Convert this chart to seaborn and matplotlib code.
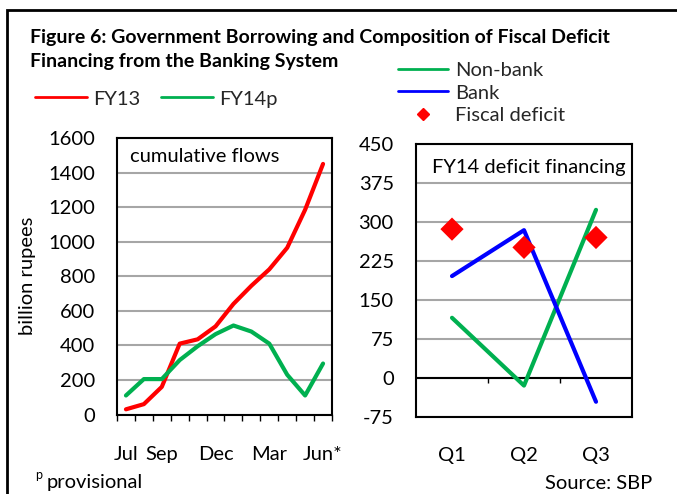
import numpy as np
import pandas as pd
import matplotlib
matplotlib.use("Agg")
import matplotlib.pyplot as plt
import seaborn as sns
from matplotlib.lines import Line2D
from matplotlib.patches import Rectangle

# ---------------- data ----------------
months = ["Jul", "Aug", "Sep", "Oct", "Nov", "Dec", "Jan", "Feb", "Mar", "Apr", "May", "Jun*"]
month_labels = ["Jul", "", "Sep", "", "", "Dec", "", "", "Mar", "", "", "Jun*"]
fy13 = [30, 60, 160, 410, 435, 510, 640, 745, 840, 965, 1185, 1450]
fy14p = [110, 205, 205, 315, 395, 465, 515, 480, 410, 230, 110, 295]

quarters = ["Q1", "Q2", "Q3"]
nonbank = [116, -14, 323]
bank = [196, 284, -45]
fiscal_deficit = [286, 251, 270]

left_ticks = [0, 200, 400, 600, 800, 1000, 1200, 1400, 1600]
right_ticks = [-75, 0, 75, 150, 225, 300, 375, 450]

# ---------------- style ----------------
sns.set_theme(style="white")
plt.rcParams["font.family"] = ["Lato", "DejaVu Sans"]
W, H = 677, 494
RED, GREEN, BLUE = "#ff0000", "#00b050", "#0000ff"
GRID = "#a6a6a6"
FS = 14.5

def fx(x):
    return x / W

def fy(y):
    return 1 - y / H

fig = plt.figure(figsize=(W / 100, H / 100), dpi=100)
fig.patch.set_facecolor("white")

ax1 = fig.add_axes([fx(117), fy(414.5), (332 - 117) / W, (414.5 - 138) / H])
ax2 = fig.add_axes([fx(416), fy(417.4), (632 - 416) / W, (417.4 - 143.6) / H])

# ---------------- left panel ----------------
df_left = pd.DataFrame({
    "idx": list(range(len(months))) * 2,
    "value": fy13 + fy14p,
    "series": ["FY13"] * len(months) + ["FY14p"] * len(months),
})
sns.lineplot(data=df_left, x="idx", y="value", hue="series",
             palette={"FY13": RED, "FY14p": GREEN}, linewidth=3,
             ax=ax1, legend=False, zorder=3)
ax1.set_xlim(-0.5, len(months) - 0.5)
ax1.set_ylim(left_ticks[0], left_ticks[-1])
ax1.set_yticks(left_ticks)
ax1.set_yticklabels([str(t) for t in left_ticks])
ax1.set_xticks(range(len(months)))
ax1.set_xticklabels(month_labels)
ax1.set_xticks(np.arange(-0.5, len(months), 1.0), minor=True)
ax1.tick_params(axis="x", which="major", length=0, pad=22.5, labelsize=FS, colors="black")
ax1.tick_params(axis="x", which="minor", length=4, width=1, direction="out", color="black", bottom=True)
ax1.tick_params(axis="y", length=0, pad=16, labelsize=FS, colors="black")
ax1.yaxis.grid(True, color=GRID, linewidth=1.5)
ax1.set_axisbelow(True)
ax1.set_xlabel("")
ax1.set_ylabel("billion rupees", fontsize=FS, color="black")
ax1.yaxis.set_label_coords((36 - 117) / (332 - 117), 0.5)
for s in ax1.spines.values():
    s.set_color("black")
    s.set_linewidth(1.5)
ax1.text(fx(130), fy(157), "cumulative flows", transform=fig.transFigure,
         fontsize=FS, va="center", ha="left", color="black")

# ---------------- right panel ----------------
df_right = pd.DataFrame({
    "q": list(range(len(quarters))) * 2,
    "value": nonbank + bank,
    "series": ["Non-bank"] * len(quarters) + ["Bank"] * len(quarters),
})
sns.lineplot(data=df_right, x="q", y="value", hue="series",
             palette={"Non-bank": GREEN, "Bank": BLUE}, linewidth=3,
             ax=ax2, legend=False, zorder=3)
df_fd = pd.DataFrame({"q": list(range(len(quarters))), "value": fiscal_deficit})
sns.scatterplot(data=df_fd, x="q", y="value", marker="D", color=RED, s=140,
                edgecolor="none", ax=ax2, zorder=4, legend=False)
ax2.set_xlim(-0.5, len(quarters) - 0.5)
ax2.set_ylim(right_ticks[0], right_ticks[-1])
ax2.set_yticks(right_ticks)
ax2.set_yticklabels([str(t) for t in right_ticks])
ax2.set_xticks(range(len(quarters)))
ax2.set_xticklabels(quarters)
ax2.tick_params(axis="x", length=0, pad=21.5, labelsize=FS, colors="black")
ax2.tick_params(axis="y", length=0, pad=16, labelsize=FS, colors="black")
ax2.yaxis.grid(True, color=GRID, linewidth=1.5)
ax2.set_axisbelow(True)
ax2.axhline(0, color="black", linewidth=1.5, zorder=2)
ax2.vlines(np.arange(0.5, len(quarters) - 0.5, 1.0), -9, 0, color="black", linewidth=1, zorder=2)
ax2.set_xlabel("")
ax2.set_ylabel("")
for s in ax2.spines.values():
    s.set_color("black")
    s.set_linewidth(1.5)
ax2.text(fx(432), fy(167), "FY14 deficit financing", transform=fig.transFigure,
         fontsize=FS, va="center", ha="left", color="black")

# ---------------- titles / notes ----------------
fig.text(fx(30), fy(37), "Figure 6: Government Borrowing and Composition of Fiscal Deficit",
         fontsize=14, fontweight="bold", va="center", ha="left", color="black")
fig.text(fx(30), fy(62), "Financing from the Banking System",
         fontsize=14, fontweight="bold", va="center", ha="left", color="black")
fig.text(fx(35), fy(475), "p", fontsize=9, va="center", ha="left", color="black")
fig.text(fx(47), fy(482), "provisional", fontsize=FS, va="center", ha="left", color="black")
fig.text(fx(652), fy(483), "Source: SBP", fontsize=FS, va="center", ha="right", color="black")

# ---------------- legends ----------------
h_left = [Line2D([], [], color=RED, lw=2), Line2D([], [], color=GREEN, lw=2)]
fig.legend(h_left, ["FY13", "FY14p"], loc="center left", bbox_to_anchor=(fx(35), fy(99)),
           ncol=2, frameon=False, fontsize=FS, handlelength=2.6, handletextpad=0.3,
           columnspacing=1.0, borderpad=0, borderaxespad=0)
h_right = [Line2D([], [], color=GREEN, lw=2), Line2D([], [], color=BLUE, lw=2),
           Line2D([], [], color=RED, marker="D", ms=6, lw=0)]
fig.legend(h_right, ["Non-bank", "Bank", "Fiscal deficit"], loc="center left",
           bbox_to_anchor=(fx(398), fy(93)), frameon=False, fontsize=FS,
           handlelength=2.5, handletextpad=0.35, labelspacing=0.28,
           borderpad=0, borderaxespad=0)

# outer border
fig.patches.append(Rectangle((fx(7), -0.1), 1.2, fy(10) + 0.1, transform=fig.transFigure,
                             fill=False, edgecolor="black", linewidth=2))

fig.savefig("out.png", dpi=100)
